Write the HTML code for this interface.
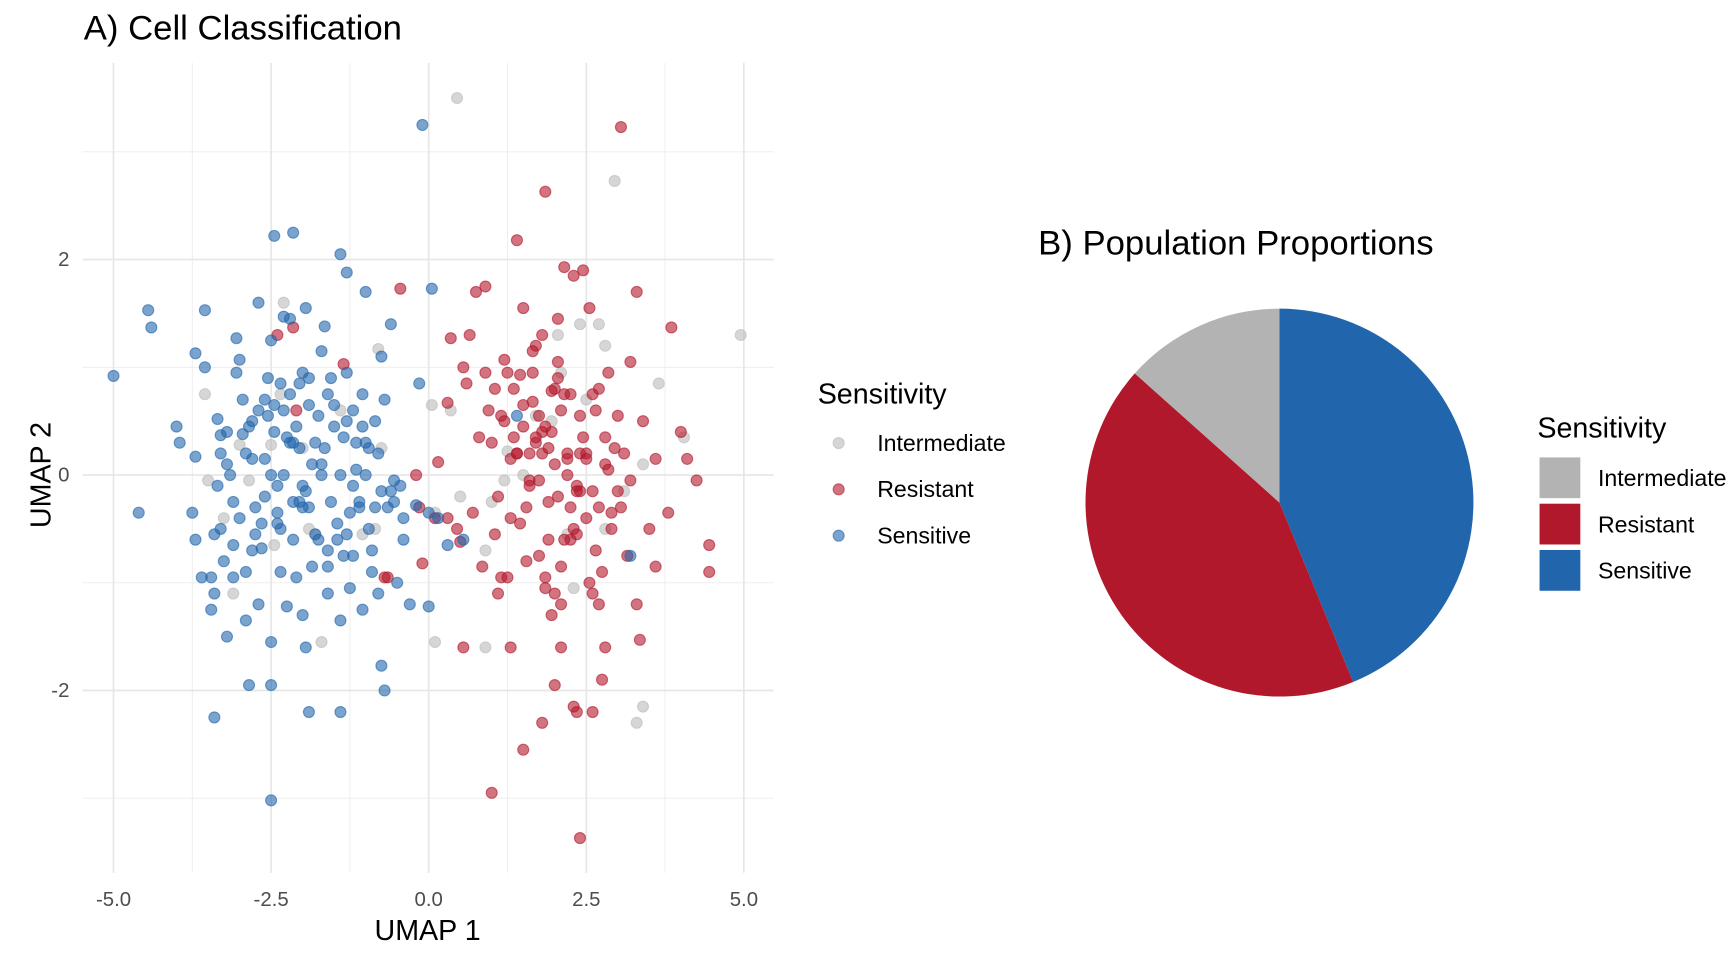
<!DOCTYPE html>
<html><head><meta charset="utf-8"><style>
html,body{margin:0;padding:0;background:#fff;}
svg{display:block;font-family:"Liberation Sans",sans-serif;}
</style></head><body>
<svg id="fig" width="1728" height="960" viewBox="0 0 1568 871" xmlns="http://www.w3.org/2000/svg">
<g id="scatter"></g>
<g id="pie"></g>
</svg>
<script>
const blueX=[-5.0,-4.6,-4.45,-4.4,-4.0,-3.95,-3.7,-3.75,-3.7,-3.7,-3.55,-3.55,-3.45,-3.45,-3.4,-3.35,-3.3,-3.3,-3.2,-3.2,-3.1,-3.1,-3.05,-3.05,-3.0,-2.95,-2.9,-2.9,-2.85,-2.8,-2.75,-2.7,-2.7,-2.65,-2.6,-2.55,-2.5,-2.5,-2.45,-2.45,-2.4,-2.35,-2.35,-2.3,-2.3,-2.25,-2.2,-2.2,-2.15,-2.15,-2.1,-2.05,-2.05,-2.0,-1.95,-1.95,-1.9,-1.9,-1.85,-1.8,-1.75,-1.7,-1.7,-1.65,-1.6,-1.6,-1.55,-1.5,-1.45,-1.4,-1.4,-1.35,-1.3,-1.3,-1.25,-1.2,-1.15,-1.1,-1.05,-1.0,-1.0,-0.95,-0.9,-0.85,-0.8,-0.75,-0.75,-0.7,-0.7,-0.65,-0.6,-0.55,-0.5,-0.4,-0.3,-0.2,-0.15,0.0,0.0,0.05,0.3,-0.1,-2.5,-3.4,-1.4,-2.5,-3.4,
-3.2,-2.9,-2.6,-2.3,-2.0,-1.7,-1.4,-1.1,-0.8,-3.0,-2.7,-2.4,-2.1,-1.8,-1.5,-1.2,-0.9,-3.3,-2.8,-2.2,-1.6,-1.0,-0.6,-2.6,-2.0,-1.3,-3.1,-2.5,-1.9,-1.2,-0.4,-2.85,-2.15,-1.55,-0.95,-3.25,-2.35,-1.75,-1.05,-2.65,-1.85,-1.25,-0.45,0.15,1.4,3.2,0.55,
-2.95,-2.55,-2.25,-1.95,-1.65,-1.35,-1.05,-0.75,-3.15,-2.75,-2.45,-2.05,-1.45,-0.85,-3.35,-2.15,-1.9,-1.15,-0.55,-2.4,-1.6,-2.8,-1.3,-3.6,-2.0];
const blueY=[0.92,-0.35,1.53,1.37,0.45,0.3,1.13,-0.35,-0.6,0.17,1.0,1.53,-0.95,-1.25,-1.1,0.52,0.37,-0.5,-1.5,0.4,-0.65,-0.25,0.95,1.27,1.07,0.38,-0.9,-1.35,-1.95,0.5,-0.3,1.6,-1.2,-0.68,0.15,0.9,1.25,-1.55,2.22,0.4,-0.1,0.85,-0.9,1.47,0.6,-1.22,1.45,0.75,2.25,-0.6,-0.95,0.85,0.25,-0.3,1.55,-1.6,0.65,-2.2,-0.85,0.3,-0.6,1.15,0.0,1.38,-1.1,0.75,-0.25,0.45,-0.45,2.05,-1.35,0.35,1.88,-0.55,-1.05,0.6,0.05,-0.25,-1.25,1.7,0.3,-0.5,-0.9,0.5,-1.1,-1.77,1.1,-2.0,0.7,-0.3,1.4,-0.05,-1.0,-0.6,-1.2,-0.28,0.85,-0.35,-1.22,1.73,-0.65,3.25,-3.02,-2.25,-2.2,-1.95,-0.55,
0.1,0.2,-0.2,0.0,-0.1,0.1,0.0,-0.3,0.2,-0.4,0.6,-0.35,0.45,-0.55,0.65,-0.1,-0.7,0.2,-0.7,0.3,-0.7,0.0,-0.15,0.7,0.95,0.5,-0.95,0.0,-0.3,-0.75,-0.4,0.45,-0.25,0.9,0.25,-0.8,-0.5,0.55,0.75,-0.45,0.1,-0.35,-0.1,-0.4,0.55,-0.75,-0.6,
0.7,0.55,0.35,-0.15,0.25,-0.75,0.45,-0.15,0.0,-0.55,0.65,-0.25,-0.6,-0.3,-0.1,0.3,0.9,0.3,-0.25,-0.45,-0.85,0.15,0.95,-0.95,-1.3];
const redX=[-2.4,-2.15,-1.35,-0.45,-0.2,-0.15,-0.1,-0.65,0.15,0.3,0.35,0.3,0.45,0.5,0.55,0.6,0.65,0.7,0.75,0.8,0.85,0.9,0.95,1.0,1.05,1.1,1.15,1.2,1.25,1.3,1.35,1.4,1.45,1.5,1.55,1.6,1.65,1.7,1.75,1.8,1.8,1.85,1.9,1.95,2.0,2.05,2.1,2.15,2.2,2.25,2.3,2.35,2.4,2.45,2.5,2.55,2.6,2.65,2.7,2.75,2.8,2.85,2.9,3.0,3.05,3.1,3.15,3.2,3.3,3.35,3.4,3.5,3.6,3.8,3.85,4.1,4.25,4.45,4.45,1.5,1.0,2.4,1.8,2.0,2.3,2.6,0.55,1.3,2.1,2.8,
1.2,1.4,1.6,1.8,2.0,2.2,2.4,2.6,2.8,3.0,1.3,1.5,1.7,1.9,2.1,2.3,2.5,2.7,2.9,3.2,1.25,1.55,1.85,2.15,2.45,2.75,3.05,1.1,1.45,1.75,2.05,2.35,2.65,2.95,3.3,1.65,1.95,2.25,2.55,2.85,1.35,1.85,2.35,2.05,1.5,2.7,-2.1,-0.7,0.1,1.05,3.6,4.0,
1.6,1.75,1.9,2.05,2.2,2.35,2.5,1.7,1.95,2.15,2.4,1.85,2.1,1.4,2.6,0.9,1.15,1.65,2.25,2.0];
const redY=[1.3,1.37,1.03,1.73,0.0,-0.3,-0.82,-0.95,0.12,-0.4,1.27,0.67,-0.5,-0.62,1.0,0.85,1.3,-0.35,1.7,0.35,-0.85,1.75,0.6,0.3,-0.55,-1.1,0.55,1.07,-0.95,0.15,0.8,2.18,0.93,0.45,-0.3,-0.1,0.68,1.2,-0.75,0.2,1.3,2.63,-0.6,0.78,-1.1,1.05,-0.85,1.93,0.2,-0.3,1.85,-2.2,0.55,1.9,-0.4,1.55,-1.1,0.6,-1.2,-1.9,0.35,0.05,-0.5,-0.15,3.23,0.2,-0.75,1.05,1.7,-1.53,0.5,-0.5,0.15,-0.35,1.37,0.15,-0.05,-0.65,-0.9,-2.55,-2.95,-3.37,-2.3,-1.95,-2.15,-2.2,-1.6,-1.6,-1.6,-1.6,
0.5,0.2,-0.05,0.4,0.1,0.0,0.2,-0.15,0.1,0.55,-0.4,0.65,0.3,-0.25,0.6,-0.5,0.15,0.8,-0.35,-0.05,0.95,-0.8,0.45,-0.6,0.35,-0.9,-0.3,-0.2,-0.45,0.55,0.9,-0.15,-0.7,0.25,-1.2,1.15,-1.3,0.75,-1.0,0.95,0.35,-0.95,-0.55,1.45,1.55,-0.3,0.6,-0.95,-0.4,0.8,-0.85,0.4,
0.2,-0.05,0.25,-0.2,0.15,-0.1,0.2,0.35,0.4,0.75,-0.15,-1.05,-1.2,0.2,0.75,0.95,-0.95,0.95,-0.6,0.8];
const greyX=[0.45,2.95,-3.55,-3.5,-3.1,-3.0,-2.85,-2.5,-2.45,-2.3,-2.0,-1.8,-1.7,-1.4,-0.85,-0.75,-0.8,0.05,0.1,0.1,0.35,0.5,0.9,0.9,1.2,1.25,1.7,1.95,2.05,2.2,2.4,2.5,2.7,2.8,3.1,3.3,3.4,3.4,3.65,4.05,4.95,1.0,2.3,2.8,-2.35,-1.9,-3.25,-1.05,1.5,2.1];
const greyY=[3.5,2.73,0.75,-0.05,-1.1,0.28,-0.05,0.28,-0.65,1.6,0.25,-0.55,-1.55,0.6,-0.5,0.25,1.17,0.65,-0.35,-1.55,0.6,-0.2,-1.6,-0.7,-0.05,0.22,0.55,0.5,1.3,-0.55,1.4,0.7,1.4,1.2,-0.15,-2.3,-2.15,0.1,0.85,0.35,1.3,-0.25,-1.05,-0.5,0.75,-0.5,-0.4,-0.55,0.0,0.95];
const pieCats=["Intermediate","Resistant","Sensitive"];
const pieCounts=[67,214,219];
const xTicks=[-5.0,-2.5,0.0,2.5,5.0];
const yTicks=[-2,0,2];
const xMinor=[-3.75,-1.25,1.25,3.75];
const yMinor=[-3,-1,1,3];

const NS="http://www.w3.org/2000/svg";
function mk(tag,attrs,parent,text){const e=document.createElementNS(NS,tag);for(const k in attrs)e.setAttribute(k,attrs[k]);if(text!==undefined)e.textContent=text;parent.appendChild(e);return e;}
const X=v=>389+v*57.2, Y=v=>431-v*97.75;
const L=75,R=702,T=57,B=792;
const sc=document.getElementById('scatter');
for(const v of xMinor){const l=mk('line',{x1:X(v),x2:X(v),y1:T,y2:B,stroke:'#ececec','stroke-width':0.8},sc);

}
for(const v of yMinor){const l=mk('line',{x1:L,x2:R,y1:Y(v),y2:Y(v),stroke:'#ececec','stroke-width':0.8},sc);

}
for(const v of xTicks){const l=mk('line',{x1:X(v),x2:X(v),y1:T,y2:B,stroke:'#e6e6e6','stroke-width':1.5},sc);


const t=mk('text',{x:X(v),y:822,'text-anchor':'middle','font-size':18.5,fill:'#4d4d4d'},sc,v.toFixed(1));

}
for(const v of yTicks){const l=mk('line',{x1:L,x2:R,y1:Y(v),y2:Y(v),stroke:'#e6e6e6','stroke-width':1.5},sc);


const t=mk('text',{x:63,y:Y(v)+6,'text-anchor':'end','font-size':18.5,fill:'#4d4d4d'},sc,String(v));

}
function pts(xs,ys,col,name){for(let i=0;i<xs.length;i++){const c=mk('circle',{cx:X(xs[i]),cy:Y(ys[i]),r:5,fill:col,'fill-opacity':0.6,stroke:col,'stroke-opacity':0.6,'stroke-width':1},sc);

}}
pts(greyX,greyY,'#bababa','point-intermediate');
pts(redX,redY,'#b2182b','point-resistant');
pts(blueX,blueY,'#2166ac','point-sensitive');
let t;
t=mk('text',{x:76,y:36,'font-size':31.5,fill:'#000'},sc,'A) Cell Classification');


t=mk('text',{x:388,y:853,'text-anchor':'middle','font-size':26,fill:'#000'},sc,'UMAP 1');


t=mk('text',{x:0,y:0,'text-anchor':'middle','font-size':26,fill:'#000',transform:'translate(46,431) rotate(-90)'},sc,'UMAP 2');


t=mk('text',{x:742,y:366,'font-size':26,fill:'#000'},sc,'Sensitivity');


const legCols=['#bababa','#b2182b','#2166ac'];
pieCats.forEach((c,i)=>{const y=402+i*42;
const d=mk('circle',{cx:761,cy:y,r:5,fill:legCols[i],'fill-opacity':0.6,stroke:legCols[i],'stroke-opacity':0.6},sc);


const tt=mk('text',{x:796,y:y+7,'font-size':21,fill:'#000'},sc,c);

});
// pie
const pg=document.getElementById('pie');
const pieCols=['#b3b3b3','#b2182b','#2166ac'];
const cx=1161,cy=456,rad=176;
const tot=pieCounts.reduce((a,b)=>a+b,0);
const order=[2,1,0];let acc=0;
for(const k of order){const a0=acc/tot*2*Math.PI;acc+=pieCounts[k];const a1=acc/tot*2*Math.PI;
const x0=cx+rad*Math.sin(a0),y0=cy-rad*Math.cos(a0),x1=cx+rad*Math.sin(a1),y1=cy-rad*Math.cos(a1);
const large=(a1-a0)>Math.PI?1:0;
const p=mk('path',{d:`M${cx},${cy}L${x0},${y0}A${rad},${rad} 0 ${large} 1 ${x1},${y1}Z`,fill:pieCols[k]},pg);

}
t=mk('text',{x:942,y:231,'font-size':31.5,fill:'#000'},pg,'B) Population Proportions');


t=mk('text',{x:1395,y:397,'font-size':26,fill:'#000'},pg,'Sensitivity');


pieCats.forEach((c,i)=>{const y=415+i*42;
const r=mk('rect',{x:1397,y:y,width:37,height:37,fill:pieCols[i]},pg);


const tt=mk('text',{x:1450,y:y+26,'font-size':21,fill:'#000'},pg,c);

});
</script>
</body></html>
